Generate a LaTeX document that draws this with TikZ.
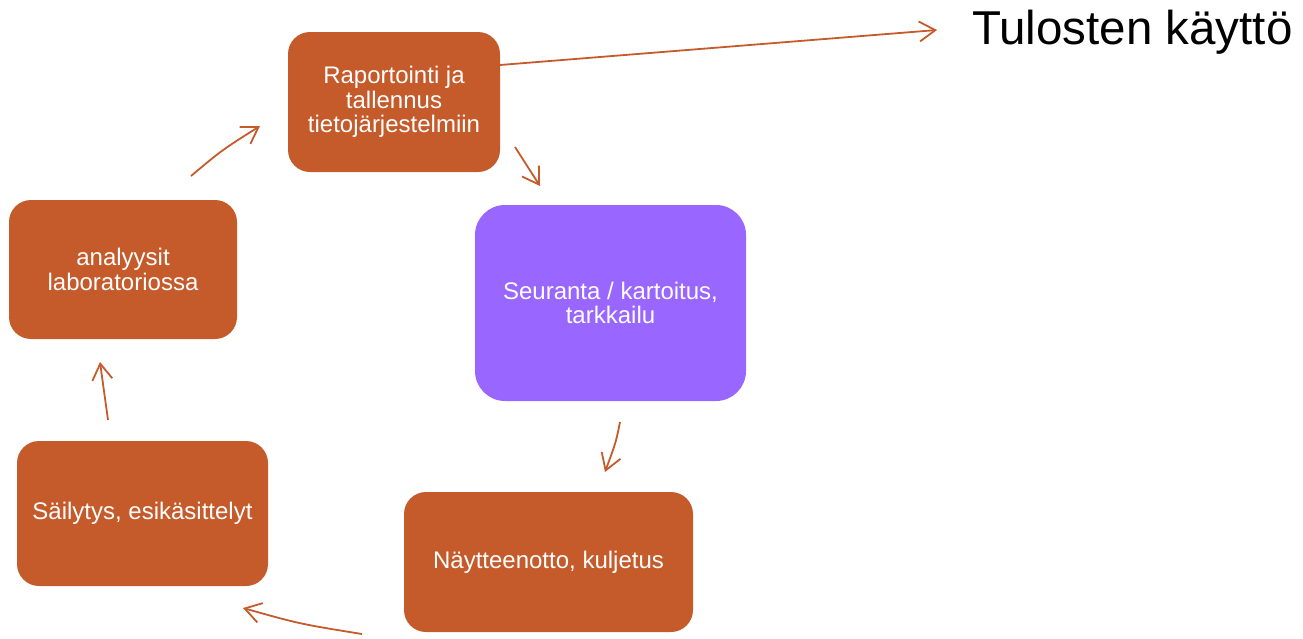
\documentclass[tikz,border=0pt]{standalone}
\usepackage{fontspec}
\setmainfont{Liberation Sans}
\usetikzlibrary{arrows.meta}
\definecolor{boxor}{HTML}{C55A2B}
\definecolor{boxpu}{HTML}{9966FF}
\definecolor{arr}{HTML}{C55A2B}
\begin{document}
\begin{tikzpicture}[x=1pt,y=-1pt,
  stepbox/.style={fill=boxor,rounded corners=22pt,text=white,align=center,font=\fontsize{24}{24.5}\selectfont,inner sep=0pt},
  conn/.style={draw=arr,line width=1.8pt,-{Straight Barb[length=16pt,width=20pt,line width=1.8pt]}}]
\useasboundingbox (0,0) rectangle (1303,638);
\node[stepbox,minimum width=212pt,minimum height=140pt] (rap) at (394,102) {Raportointi ja\\tallennus\\tietojärjestelmiin};
\node[stepbox,fill=boxpu,rounded corners=30pt,minimum width=271pt,minimum height=196pt] (seu) at (610.5,303) {Seuranta / kartoitus,\\tarkkailu};
\node[stepbox,minimum width=289pt,minimum height=140pt] (nay) at (548.5,562) {Näytteenotto, kuljetus};
\node[stepbox,minimum width=251pt,minimum height=145pt] (sai) at (142.5,513.5) {Säilytys, esikäsittelyt};
\node[stepbox,minimum width=228pt,minimum height=139pt] (ana) at (123,269.5) {analyysit\\laboratoriossa};
\node[anchor=west,font=\fontsize{47.5}{56}\selectfont,inner sep=0pt] (tul) at (972,32) {Tulosten käyttö};
\coordinate (a1) at (500,65);
\coordinate (b1) at (937,30);
\coordinate (a2) at (515,147);
\coordinate (b2) at (540,186);
\coordinate (a3) at (620,422);
\coordinate (b3) at (605,472);
\coordinate (a4) at (362,634);
\coordinate (b4) at (243,608);
\coordinate (a5) at (108,420);
\coordinate (b5) at (100,362);
\coordinate (a6) at (191,176);
\coordinate (b6) at (260,126);
\draw[conn] (a1) -- (b1);
\draw[conn] (a2) -- (b2);
\draw[conn] (a3) .. controls (616,442) .. (b3);
\draw[conn] (a4) .. controls (300,624) .. (b4);
\draw[conn] (a5) .. controls (104,392) .. (b5);
\draw[conn] (a6) .. controls (222,150) .. (b6);
\end{tikzpicture}
\end{document}
